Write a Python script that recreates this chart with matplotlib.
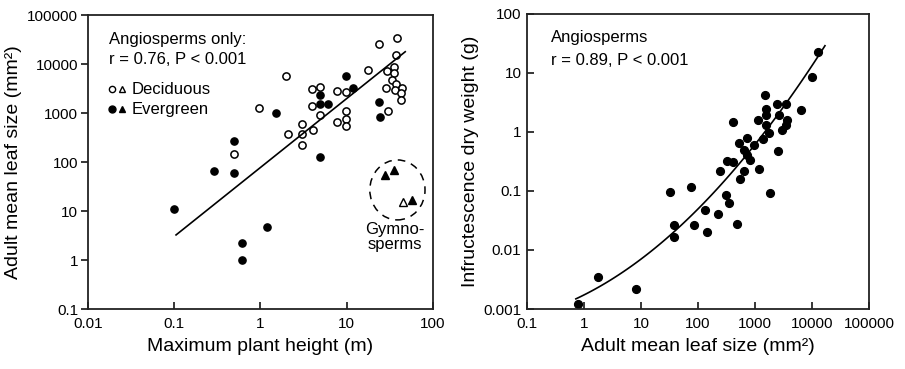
import numpy as np
import matplotlib
matplotlib.use("Agg")
import matplotlib.pyplot as plt
from matplotlib.patches import Ellipse

plt.rcParams["font.family"] = ["Liberation Sans", "DejaVu Sans"]

# ---- left panel: plant height (m) vs leaf size (mm2) ----
decid_height = [1.97, 0.97, 0.49, 3.0, 2.06, 3.0, 4.04, 3.0, 3.95, 4.9, 3.95, 4.9,
                7.8, 9.9, 9.9, 9.9, 7.8, 9.9, 17.7, 23.5, 38.5, 37.1, 29.4, 35,
                35, 33.9, 37.1, 28.8, 36.1, 43.2, 42.3, 42.3, 30.4]
decid_leaf = [5640, 1250, 146, 597, 369, 369, 440, 222, 3050, 3430, 1420, 920,
              2880, 2680, 1110, 765, 655, 538, 7470, 25200, 34400, 15100, 7280, 8570,
              6460, 4830, 3850, 3240, 2945, 3310, 2580, 1820, 1110]
ever_height = [1.52, 0.49, 0.29, 0.49, 4.9, 4.9, 4.9, 6.0, 9.8, 11.9, 23.5, 24.5,
               0.1, 1.2, 0.61, 0.61]
ever_leaf = [1020, 272, 64.6, 60.5, 128, 2280, 1550, 1550, 5640, 3240, 1640, 817,
             11.1, 4.67, 2.25, 0.99]
gymno_ever_height = [27.8, 35.2, 56.5]
gymno_ever_leaf = [55, 68.7, 16.5]
gymno_decid_height = [44.8]
gymno_decid_leaf = [15.3]

# fitted line (angiosperms): leaf = 77.4 * height ** 1.407
fit1_coef = 77.4
fit1_exp = 1.407
fit1_range = [0.105, 47.7]

# ---- right panel: leaf size (mm2) vs infructescence dry weight (g) ----
leaf_size = [12730, 10120, 1510, 408, 6370, 2450, 3510, 1570, 1540, 1130, 2600, 3610,
             3540, 2990, 1550, 1740, 1390, 732, 970, 516, 631, 732, 826, 2520,
             318, 408, 247, 631, 1200, 552, 32, 74, 315, 352, 1850, 131,
             222, 484, 38.4, 86, 143, 38.4, 1.73, 8.1, 0.78]
infr_weight = [23.0, 8.65, 4.24, 1.50, 2.33, 2.95, 2.95, 2.43, 1.94, 1.60, 1.92, 1.60,
               1.31, 1.09, 1.31, 0.945, 0.76, 0.80, 0.61, 0.65, 0.49, 0.41, 0.335, 0.47,
               0.32, 0.31, 0.222, 0.22, 0.239, 0.157, 0.0955, 0.118, 0.0855, 0.062, 0.0935, 0.0477,
               0.0407, 0.0276, 0.0265, 0.0265, 0.0198, 0.0164, 0.00352, 0.00218, 0.00122]

# quadratic fit in log-log space: log y = a + b log x + c (log x)^2
fit2_coef = [-2.7617, 0.4858, 0.1214]
fit2_range = [0.72, 16900]

left_xticks = [0.01, 0.1, 1, 10, 100]
left_xlabels = ["0.01", "0.1", "1", "10", "100"]
left_yticks = [0.1, 1, 10, 100, 1000, 10000, 100000]
left_ylabels = ["0.1", "1", "10", "100", "1000", "10000", "100000"]
right_xticks = [0.1, 1, 10, 100, 1000, 10000, 100000]
right_xlabels = ["0.1", "1", "10", "100", "1000", "10000", "100000"]
right_yticks = [0.001, 0.01, 0.1, 1, 10, 100]
right_ylabels = ["0.001", "0.01", "0.1", "1", "10", "100"]

fig = plt.figure(figsize=(9.05, 3.69), dpi=100)
ax1 = fig.add_axes([0.0972, 0.1626, 0.3812, 0.7967])
ax2 = fig.add_axes([0.5823, 0.1626, 0.3779, 0.7995])

tick_fs = 11
lab_fs = 14
note_fs = 12

# left panel
ax1.plot(decid_height, decid_leaf, "o", ms=5.2, mfc="white", mec="black", mew=1.1, ls="none")
ax1.plot(ever_height, ever_leaf, "o", ms=5.2, mfc="black", mec="black", ls="none")
ax1.plot(gymno_ever_height, gymno_ever_leaf, "^", ms=5.2, mfc="black", mec="black", ls="none")
ax1.plot(gymno_decid_height, gymno_decid_leaf, "^", ms=5.2, mfc="white", mec="black", mew=1.0, ls="none")

xf = np.logspace(np.log10(fit1_range[0]), np.log10(fit1_range[1]), 50)
ax1.plot(xf, fit1_coef * xf ** fit1_exp, color="black", lw=1.2)

ax1.set_xscale("log")
ax1.set_yscale("log")
ax1.set_xlim(0.01, 100)
ax1.set_ylim(0.1, 100000)
ax1.set_xticks(left_xticks)
ax1.set_xticklabels(left_xlabels)
ax1.set_yticks(left_yticks)
ax1.set_yticklabels(left_ylabels)
ax1.minorticks_off()
ax1.tick_params(axis="x", direction="in", length=5, width=1.1, labelsize=tick_fs, pad=6)
ax1.tick_params(axis="y", direction="out", length=5, width=1.1, labelsize=tick_fs, pad=2)
ax1.set_xlabel("Maximum plant height (m)", fontsize=lab_fs, labelpad=5)
ax1.set_ylabel("Adult mean leaf size (mm²)", fontsize=lab_fs, labelpad=4)

ax1.text(0.061, 0.918, "Angiosperms only:", transform=ax1.transAxes, fontsize=note_fs, va="center")
ax1.text(0.061, 0.847, "r = 0.76, P < 0.001", transform=ax1.transAxes, fontsize=note_fs, va="center")
ax1.plot([0.0696], [0.748], "o", ms=4.5, mfc="white", mec="black", mew=1.0, transform=ax1.transAxes)
ax1.plot([0.0986], [0.748], "^", ms=4.5, mfc="white", mec="black", mew=1.0, transform=ax1.transAxes)
ax1.text(0.128, 0.748, "Deciduous", transform=ax1.transAxes, fontsize=note_fs, va="center")
ax1.plot([0.0696], [0.680], "o", ms=5, mfc="black", mec="black", transform=ax1.transAxes)
ax1.plot([0.0986], [0.680], "^", ms=5, mfc="black", mec="black", transform=ax1.transAxes)
ax1.text(0.128, 0.680, "Evergreen", transform=ax1.transAxes, fontsize=note_fs, va="center")

ax1.add_patch(Ellipse((0.897, 0.405), 0.16, 0.204, transform=ax1.transAxes,
                      fill=False, ec="black", lw=1.1, ls=(0, (5, 4))))
ax1.text(0.89, 0.245, "Gymno-\nsperms", transform=ax1.transAxes, fontsize=note_fs,
         ha="center", va="center", linespacing=1.0)

# right panel
ax2.plot(leaf_size, infr_weight, "o", ms=5.6, mfc="black", mec="black", ls="none")
lx = np.linspace(np.log10(fit2_range[0]), np.log10(fit2_range[1]), 100)
ly = fit2_coef[0] + fit2_coef[1] * lx + fit2_coef[2] * lx ** 2
ax2.plot(10 ** lx, 10 ** ly, color="black", lw=1.2)

ax2.set_xscale("log")
ax2.set_yscale("log")
ax2.set_xlim(0.1, 100000)
ax2.set_ylim(0.001, 100)
ax2.set_xticks(right_xticks)
ax2.set_xticklabels(right_xlabels)
ax2.set_yticks(right_yticks)
ax2.set_yticklabels(right_ylabels)
ax2.minorticks_off()
ax2.tick_params(axis="both", direction="in", length=5, width=1.1, labelsize=tick_fs)
ax2.tick_params(axis="x", pad=6)
ax2.tick_params(axis="y", pad=4)
ax2.set_xlabel("Adult mean leaf size (mm²)", fontsize=lab_fs, labelpad=5)
ax2.set_ylabel("Infructescence dry weight (g)", fontsize=lab_fs, labelpad=3)
ax2.text(0.069, 0.919, "Angiosperms", transform=ax2.transAxes, fontsize=note_fs, va="center")
ax2.text(0.069, 0.844, "r = 0.89, P < 0.001", transform=ax2.transAxes, fontsize=note_fs, va="center")

for ax in (ax1, ax2):
    for sp in ax.spines.values():
        sp.set_linewidth(1.3)
        sp.set_color("#222222")

fig.savefig("out.png", dpi=100)
